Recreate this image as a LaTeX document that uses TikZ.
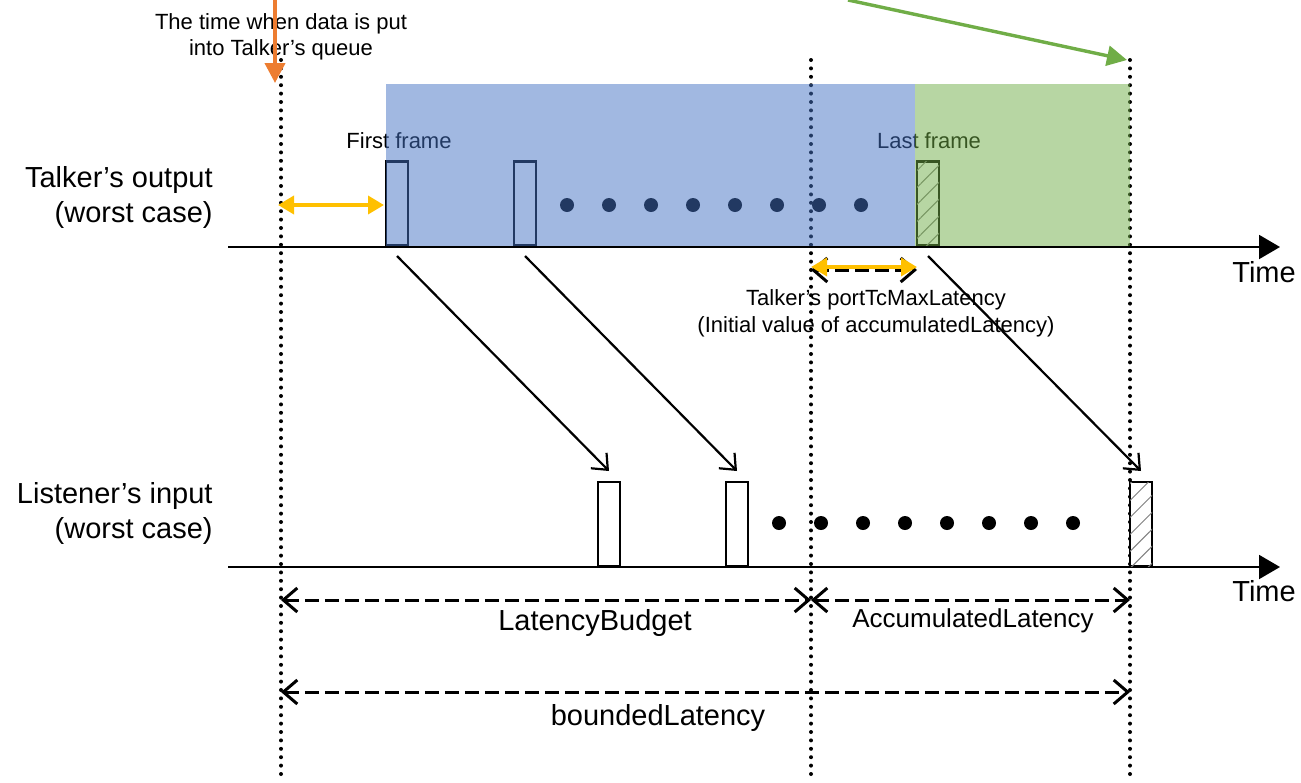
\documentclass[tikz,border=0pt]{standalone}
\usepackage{fontspec}
\setmainfont{Liberation Sans}
\usetikzlibrary{arrows.meta,patterns.meta}

\definecolor{boxblue}{HTML}{4472C4}
\definecolor{boxgreen}{HTML}{70AD47}
\definecolor{markorange}{HTML}{ED7D31}
\definecolor{markyellow}{HTML}{FFC000}

\tikzset{
  timeaxis/.style={line width=1pt,-{Triangle[length=10.5pt,width=12pt]}},
  guide/.style={line width=2pt,dash pattern=on 0pt off 4.2pt,line cap=round},
  tframe/.style={draw,line width=1.3pt,minimum width=11pt,minimum height=42pt,inner sep=0pt,anchor=south},
  lframe/.style={draw,fill=white,line width=1pt,minimum width=11pt,minimum height=42pt,inner sep=0pt,anchor=south},
  hatched/.style={postaction={pattern={Lines[angle=45,distance=6pt,line width=0.5pt]},pattern color=gray}},
  flowarrow/.style={line width=1.1pt,-{Straight Barb[length=6.5pt,width=11pt]}},
  dimline/.style={line width=1.5pt,dash pattern=on 7pt off 3pt,{Straight Barb[length=7pt,width=12pt]}-{Straight Barb[length=7pt,width=12pt]}},
  gaparrow/.style={markyellow,line width=1.8pt,{Triangle[length=8pt,width=9pt]}-{Triangle[length=8pt,width=9pt]}},
  callout/.style={line width=2pt,-{Triangle[length=10pt,width=10pt]}},
  smalltxt/.style={font=\fontsize{11}{13}\selectfont,align=center},
  bigtxt/.style={font=\fontsize{14.5}{17.5}\selectfont},
}

\begin{document}
\begin{tikzpicture}[x=0.5pt,y=-0.5pt]
    \useasboundingbox (0,0) rectangle (1301,782);

    % Labels on the left
    \node[bigtxt,align=right,anchor=east,inner sep=0pt] (talkerlbl) at (213,197) {Talker’s output\\(worst case)};
    \node[bigtxt,align=right,anchor=east,inner sep=0pt] (listenerlbl) at (213,513) {Listener’s input\\(worst case)};

    % Top text
    \node[smalltxt] (queuetxt) at (281,37) {The time when data is put\\into Talker’s queue};
    \node[smalltxt] (firsttxt) at (399,141) {First frame};
    \node[smalltxt] (lasttxt) at (929,141) {Last frame};

    % Talker frames
    \node[tframe] (tf1) at (397,247) {};
    \node[tframe] (tf2) at (525,247) {};
    \node[tframe,hatched] (tf3) at (928,247) {};

    % dots (talker)
    \fill (567,205) circle (3.5pt);
    \fill (609,205) circle (3.5pt);
    \fill (651,205) circle (3.5pt);
    \fill (693,205) circle (3.5pt);
    \fill (735,205) circle (3.5pt);
    \fill (777,205) circle (3.5pt);
    \fill (819,205) circle (3.5pt);
    \fill (861,205) circle (3.5pt);

    % Dotted Lines
    \coordinate (g1top) at (281,60);
    \coordinate (g1bot) at (281,782);
    \coordinate (g2top) at (811,60);
    \coordinate (g2bot) at (811,782);
    \coordinate (g3top) at (1130,60);
    \coordinate (g3bot) at (1130,782);
    \draw[guide] (g1top) -- (g1bot);
    \draw[guide] (g2top) -- (g2bot);
    \draw[guide] (g3top) -- (g3bot);

    % Shaded areas
    \fill[boxblue,opacity=0.5] (386,84) rectangle (915,246);
    \fill[boxgreen,opacity=0.5] (915,84) rectangle (1130,246);

    % Time axes
    \coordinate (ax1L) at (228,247);
    \coordinate (ax1R) at (1280,247);
    \coordinate (ax2L) at (228,567);
    \coordinate (ax2R) at (1280,567);
    \draw[timeaxis] (ax1L) -- (ax1R);
    \draw[timeaxis] (ax2L) -- (ax2R);
    \node[bigtxt,anchor=west,inner sep=0pt] (time1) at (1232,272) {Time};
    \node[bigtxt,anchor=west,inner sep=0pt] (time2) at (1232,591) {Time};

    % Listener frames
    \node[lframe] (lf1) at (609,567) {};
    \node[lframe] (lf2) at (737,567) {};
    \node[lframe,hatched] (lf3) at (1141,567) {};

    % dots (listener)
    \fill (779,523) circle (3.5pt);
    \fill (821,523) circle (3.5pt);
    \fill (863,523) circle (3.5pt);
    \fill (905,523) circle (3.5pt);
    \fill (947,523) circle (3.5pt);
    \fill (989,523) circle (3.5pt);
    \fill (1031,523) circle (3.5pt);
    \fill (1073,523) circle (3.5pt);

    % Frames travelling
    \draw[flowarrow] ([yshift=-4.5pt]tf1.south) -- ([yshift=5pt]lf1.north);
    \draw[flowarrow] ([yshift=-4.5pt]tf2.south) -- ([yshift=5pt]lf2.north);
    \draw[flowarrow] ([yshift=-4.5pt]tf3.south) -- ([yshift=5pt]lf3.north);

    % Yellow gaps
    \coordinate (waitL) at (278,205);
    \coordinate (waitR) at (384,205);
    \draw[gaparrow] (waitL) -- (waitR);
    \coordinate (portL) at (811,270);
    \coordinate (portR) at (917,270);
    \draw[dimline] (portL) -- (portR);
    \draw[gaparrow] ([yshift=1.5pt]portL) -- ([yshift=1.5pt]portR);
    \node[smalltxt,font=\fontsize{11}{13.5}\selectfont] (porttxt) at (876,313) {Talker’s portTcMaxLatency\\(Initial value of accumulatedLatency)};

    % Pointers from above
    \coordinate (qtop) at (275,0);
    \coordinate (qtip) at (275,83);
    \draw[callout,markorange] (qtop) -- (qtip);
    \coordinate (etop) at (848,0);
    \coordinate (etip) at (1127,60);
    \draw[callout,boxgreen,line width=1.7pt] (etop) -- (etip);

    % Latency spans
    \coordinate (budgetL) at (281,600);
    \coordinate (budgetR) at (811,600);
    \coordinate (accR) at (1130,600);
    \coordinate (boundL) at (281,692);
    \coordinate (boundR) at (1130,692);
    \draw[dimline] (budgetL) -- (budgetR);
    \draw[dimline] (budgetR) -- (accR);
    \draw[dimline] (boundL) -- (boundR);
    \node[bigtxt] (budgettxt) at (595,623) {LatencyBudget};
    \node[font=\fontsize{13}{15}\selectfont] (acctxt) at (973,621) {AccumulatedLatency};
    \node[bigtxt] (boundtxt) at (658,718) {boundedLatency};

\end{tikzpicture}
\end{document}
